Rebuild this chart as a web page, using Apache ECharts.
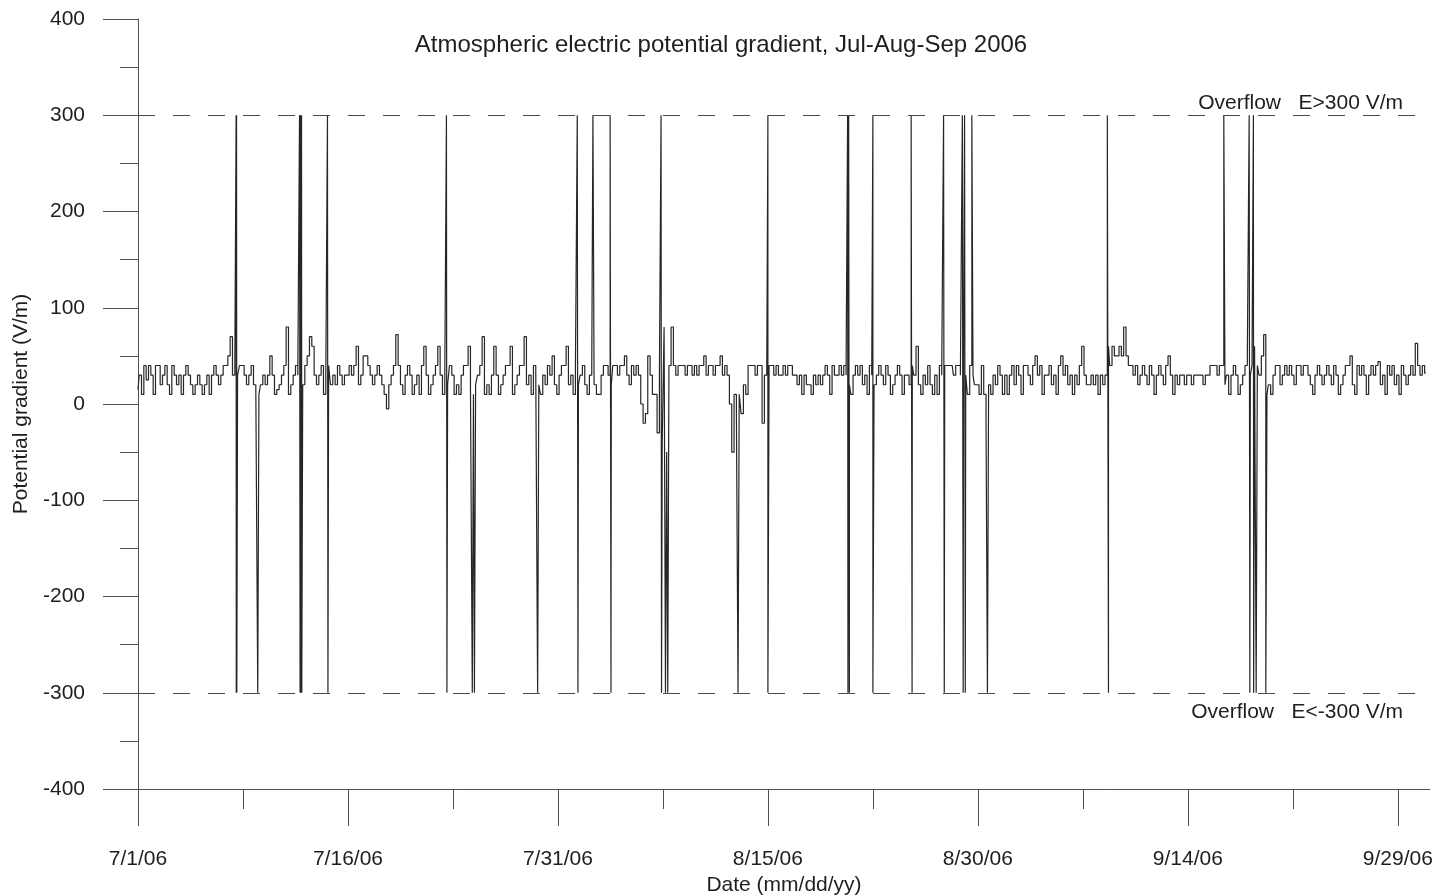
<!DOCTYPE html>
<html>
<head>
<meta charset="utf-8">
<script src="https://cdn.jsdelivr.net/npm/echarts@6/dist/echarts.min.js"></script>
<style>
html,body{margin:0;padding:0;background:#fff;}
#chart{width:1442px;height:896px;}
</style>
</head>
<body>
<div id="chart"></div>
<script>
// Potential gradient (V/m), 6 readings per day (00,04,08,12,16,20 h), day 0 = 7/1/06
const julyPG = [
 [15,30,10,40,25,40],[30,10,40,40,20,30],[40,20,10,40,30,20],[30,10,30,40,30,20],
 [10,20,30,20,10,20],[30,10,30,40,30,20],[30,40,40,50,70,30],[40,30,40,40,30,20],
 [30,40,20,15,10,20],[30,20,30,50,30,10],[15,20,30,40,80,10],[20,30,40,30,30,20],
 [40,50,70,60,30,20],[30,40,10,30,40,20],[30,20,40,30,20,30],[30,40,30,40,60,20],
 [30,50,50,40,30,20],[30,40,30,20,10,-5],[20,30,40,72,40,20],[10,30,40,30,10,20],
 [30,10,40,60,30,10],[20,30,40,60,30,10],[30,20,40,30,10,20],[10,30,40,40,60,20],
 [10,20,30,40,70,10],[20,10,30,60,30,10],[20,30,40,40,60,10],[20,30,40,40,70,20],
 [30,10,40,30,20,10],[30,20,40,30,50,20],[10,30,40,40,60,20]
];
const augustPG = [
 [30,10,40,20,30,40],[20,10,30,40,20,10],[10,30,40,40,30,20],[40,40,30,40,40,50],
 [30,20,40,30,40,30],[0,-20,-10,50,30,10],[10,-30,30,-40,80,-50],[40,80,40,30,40,40],
 [40,30,40,40,30,40],[30,40,40,50,30,40],[40,30,40,40,50,30],[40,30,0,-50,10,-10],
 [10,-10,20,10,40,40],[40,30,40,40,-20,30],[30,40,40,30,40,30],[30,40,30,40,40,30],
 [30,20,30,10,30,20],[20,10,30,20,30,20],[30,40,30,10,40,30],[30,40,30,40,30,20],
 [10,30,40,30,40,20],[30,10,40,30,20,30],[40,30,20,40,30,10],[20,30,40,30,10,30],
 [30,20,40,30,60,20],[10,30,20,40,20,10],[30,10,40,30,40,40],[40,40,30,40,40,30],
 [40,30,10,40,30,20],[20,10,40,10,-20,20],[10,30,20,40,30,10]
];
const septemberPG = [
 [30,10,30,40,20,40],[30,10,40,40,30,20],[40,50,30,40,10,30],[30,40,20,30,10,40],
 [50,30,40,20,30,10],[30,20,40,60,30,20],[20,30,20,30,10,30],[20,30,60,40,60,50],
 [50,60,50,80,50,40],[40,30,40,20,30,40],[30,20,40,30,10,30],[40,30,20,40,50,30],
 [10,30,20,30,30,20],[30,30,20,30,30,30],[30,20,30,30,40,40],[40,30,40,40,20,30],
 [10,30,40,30,10,20],[30,40,50,30,40,60],[40,30,50,72,10,20],[10,30,40,40,20,30],
 [40,30,40,30,20,40],[40,30,40,40,30,20],[10,30,40,30,20,30],[40,30,20,40,30,10],
 [20,30,40,40,50,20],[10,40,30,40,30,10],[30,40,30,40,44,20],[30,10,40,30,40,20],
 [30,10,40,30,20,30],[40,30,63,40,30,40]
];
const octoberPG = [[32]];

// Overflow excursions (day since 7/1/06) and their direction
const spikeDays  = [7.02, 7.06, 8.61, 11.58, 11.64, 11.70, 13.57, 22.07, 23.93, 24.07, 28.6, 31.43, 32.5, 33.79,
                    37.4, 37.7, 37.86, 42.9, 45.0, 50.72, 50.82, 52.5, 55.3, 57.6, 58.95, 59.1, 59.64, 60.7,
                    69.33, 77.64, 79.43, 79.7, 79.93, 80.64];
const spikeKinds = ['full','full','down','full','full','full','full','full','down','down','down','full','up','full',
                    'full','down','down','down','full','full','full','full','full','full','full','full','up','down',
                    'full','up','full','full','down','down'];

const overflowLevels = [300, -300];
const overflowLabels = ['Overflow   E>300 V/m', 'Overflow   E<-300 V/m'];

const majorTickDays = [0, 15, 30, 45, 60, 75, 90];
const minorTickDays = [7.5, 22.5, 37.5, 52.5, 67.5, 82.5];
const yTicks = [-400, 400, 100];

// build the trace
const samplesPerDay = 6;
const points = [];
[...julyPG, ...augustPG, ...septemberPG, ...octoberPG].forEach((row, d) => {
  row.forEach((v, k) => points.push([d + k / samplesPerDay, v]));
});
spikeDays.forEach((t, i) => {
  const kind = spikeKinds[i];
  if (kind === 'full') { points.push([t, overflowLevels[0]]); points.push([t, overflowLevels[1]]); }
  else if (kind === 'up') points.push([t, overflowLevels[0]]);
  else points.push([t, overflowLevels[1]]);
});
points.sort((a, b) => a[0] - b[0]);

function dayLabel(d) {
  const dt = new Date(Date.UTC(2006, 6, 1) + Math.round(d * 86400000));
  return (dt.getUTCMonth() + 1) + '/' + dt.getUTCDate() + '/' + String(dt.getUTCFullYear()).slice(2);
}

const FONT = 'Liberation Sans, Arial, Helvetica, sans-serif';
const TXT = '#1e1e1e';
const AX = '#505050';

const chart = echarts.init(document.getElementById('chart'), null, {renderer: 'canvas'});
chart.setOption({
  animation: false,
  backgroundColor: '#ffffff',
  title: {
    text: 'Atmospheric electric potential gradient, Jul-Aug-Sep 2006',
    left: 'center', top: 28,
    textStyle: {fontFamily: FONT, fontSize: 24, fontWeight: 'normal', color: TXT}
  },
  grid: {left: 138, right: 12, top: 19, bottom: 107, containLabel: false, outerBoundsMode: 'none'},
  xAxis: [{
    type: 'value', min: 0, max: 92.3, position: 'bottom',
    name: 'Date (mm/dd/yy)', nameLocation: 'middle', nameGap: 84,
    nameTextStyle: {fontFamily: FONT, fontSize: 21, color: TXT},
    axisLine: {show: true, onZero: false, lineStyle: {color: AX, width: 1}},
    axisTick: {show: true, customValues: majorTickDays, length: 37, lineStyle: {color: AX, width: 1}},
    axisLabel: {customValues: majorTickDays, formatter: v => dayLabel(v), margin: 60,
                fontFamily: FONT, fontSize: 21, color: TXT},
    splitLine: {show: false}
  }, {
    type: 'value', min: 0, max: 92.3, position: 'bottom',
    axisLine: {show: false, onZero: false},
    axisTick: {show: true, customValues: minorTickDays, length: 20, lineStyle: {color: AX, width: 1}},
    axisLabel: {show: false},
    splitLine: {show: false}
  }],
  yAxis: {
    type: 'value', min: yTicks[0], max: yTicks[1], interval: yTicks[2],
    name: 'Potential gradient (V/m)', nameLocation: 'middle', nameGap: 104,
    nameTextStyle: {fontFamily: FONT, fontSize: 21, color: TXT},
    axisLine: {show: true, onZero: false, lineStyle: {color: AX, width: 1}},
    axisTick: {show: true, length: 35, lineStyle: {color: AX, width: 1}},
    minorTick: {show: true, splitNumber: 2, length: 18, lineStyle: {color: AX, width: 1}},
    axisLabel: {margin: 53, fontFamily: FONT, fontSize: 21, color: TXT},
    splitLine: {show: false},
    minorSplitLine: {show: false}
  },
  series: [{
    type: 'line',
    xAxisIndex: 0,
    data: points,
    step: 'middle',
    showSymbol: false,
    symbol: 'none',
    lineStyle: {color: '#262626', width: 1.2},
    markLine: {
      silent: true,
      symbol: ['none', 'none'],
      animation: false,
      lineStyle: {type: [17, 18], color: '#4a4a4a', width: 1},
      data: [
        {yAxis: overflowLevels[0], label: {show: true, position: 'insideEndTop', distance: [27, 2],
          formatter: overflowLabels[0], fontFamily: FONT, fontSize: 21, color: TXT}},
        {yAxis: overflowLevels[1], label: {show: true, position: 'insideEndBottom', distance: [27, 9],
          formatter: overflowLabels[1], fontFamily: FONT, fontSize: 21, color: TXT}}
      ]
    }
  }]
});
</script>
</body>
</html>
